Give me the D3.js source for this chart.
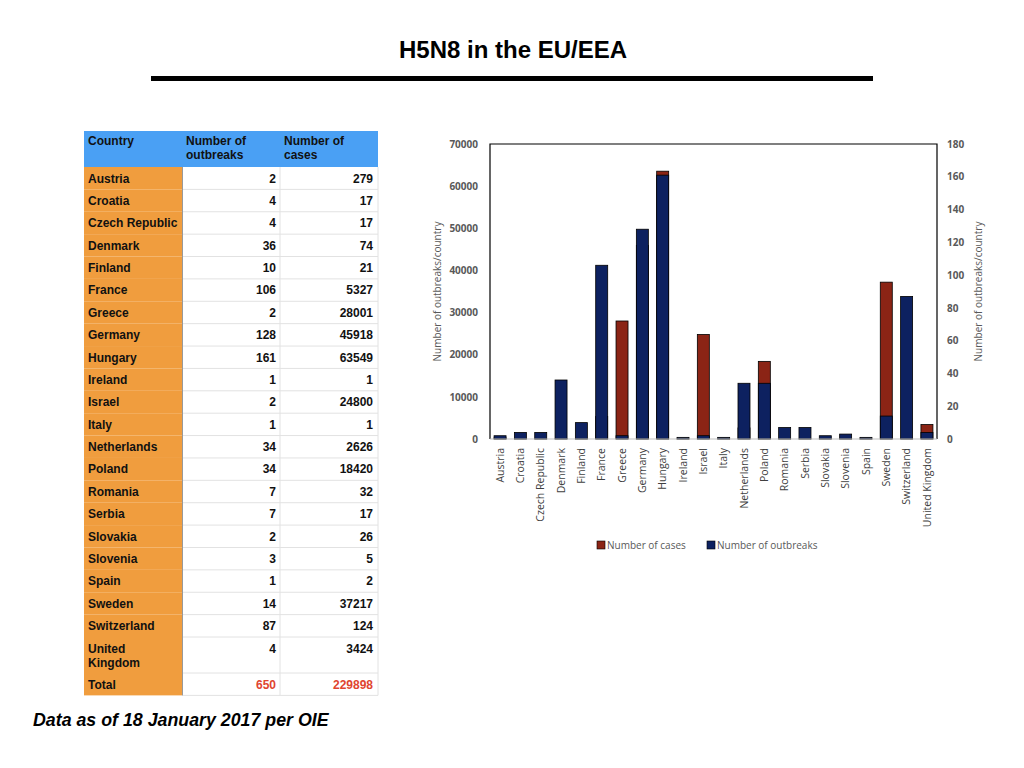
<!DOCTYPE html>
<html>
<head>
<meta charset="utf-8">
<script src="https://cdn.jsdelivr.net/npm/d3@7"></script>
<style>
  body { margin: 0; background: #fff; }
  svg { display: block; }
</style>
</head>
<body>
<div id="chart"></div>
<script>
// Datos
const countries = ["Austria", "Croatia", "Czech Republic", "Denmark", "Finland", "France", "Greece",
    "Germany", "Hungary", "Ireland", "Israel", "Italy", "Netherlands", "Poland", "Romania", "Serbia",
    "Slovakia", "Slovenia", "Spain", "Sweden", "Switzerland", "United Kingdom"];
const outbreaks = [2, 4, 4, 36, 10, 106, 2, 128, 161, 1, 2, 1, 34, 34, 7, 7, 2, 3, 1, 14, 87, 4];
const cases = [279, 17, 17, 74, 21, 5327, 28001, 45918, 63549, 1, 24800, 1, 2626, 18420, 32, 17, 26, 5, 2, 37217, 124, 3424];
const casesTicks = [0, 10000, 20000, 30000, 40000, 50000, 60000, 70000];
const outbreaksTicks = [0, 20, 40, 60, 80, 100, 120, 140, 160, 180];
const totalOutbreaks = 650, totalCases = 229898;

const W = 1024, H = 768;
const svg = d3.select("#chart").append("svg").attr("width", W).attr("height", H);

// Titulo
svg.append("text").attr("x", 513).attr("y", 58).attr("text-anchor", "middle")
    .attr("font-family", "Liberation Sans, Arial, sans-serif").attr("font-weight", "bold")
    .attr("font-size", 24).attr("fill", "#000").text("H5N8 in the EU/EEA");
svg.append("rect").attr("x", 151).attr("y", 76).attr("width", 722).attr("height", 5).attr("fill", "#000");

// Tabla
const tf = "Liberation Sans, Arial, sans-serif";
const colX = [84, 182, 280, 378];
const table = svg.append("g").attr("font-family", tf).attr("font-weight", "bold").attr("font-size", 12);

const headTop = 131, headBot = 167, rowH = (637 - 167) / 21;
table.append("rect").attr("x", colX[0]).attr("y", headTop).attr("width", colX[3] - colX[0])
    .attr("height", headBot - headTop).attr("fill", "#4aa0f4");
[["Country"], ["Number of", "outbreaks"], ["Number of", "cases"]].forEach((lines, i) => {
    lines.forEach((l, j) => table.append("text").attr("x", colX[i] + 4).attr("y", headTop + 14 + j * 14)
        .attr("fill", "#111").text(l));
});

const rows = countries.map((c, i) => ({ name: c, o: outbreaks[i], c: cases[i] }));
rows.push({ name: "Total", o: totalOutbreaks, c: totalCases, total: true });
let y0 = headBot;
rows.forEach(r => {
    const h = r.name === "United Kingdom" ? 36 : rowH;
    table.append("rect").attr("x", colX[0]).attr("y", y0).attr("width", colX[1] - colX[0])
        .attr("height", h).attr("fill", "#f09d3e");
    table.append("line").attr("x1", colX[1]).attr("x2", colX[3]).attr("y1", y0 + h).attr("y2", y0 + h)
        .attr("stroke", "#e2e2e2").attr("stroke-width", 1);
    const nameLines = r.name === "United Kingdom" ? ["United", "Kingdom"] : [r.name];
    nameLines.forEach((l, j) => table.append("text").attr("x", colX[0] + 4).attr("y", y0 + 15.5 + j * 14)
        .attr("fill", "#111").text(l));
    const col = r.total ? "#e0452f" : "#111";
    table.append("text").attr("x", colX[2] - 4).attr("y", y0 + 15.5).attr("text-anchor", "end")
        .attr("fill", col).text(r.o);
    table.append("text").attr("x", colX[3] - 5).attr("y", y0 + 15.5).attr("text-anchor", "end")
        .attr("fill", col).text(r.c);
    y0 += h;
});
table.append("line").attr("x1", colX[1] + 0.5).attr("x2", colX[1] + 0.5).attr("y1", headBot).attr("y2", y0)
    .attr("stroke", "#999");
table.append("line").attr("x1", colX[2]).attr("x2", colX[2]).attr("y1", headBot).attr("y2", y0)
    .attr("stroke", "#e2e2e2");
table.append("line").attr("x1", colX[3]).attr("x2", colX[3]).attr("y1", headBot).attr("y2", y0)
    .attr("stroke", "#e2e2e2");

// Pie
svg.append("text").attr("x", 33).attr("y", 726).attr("font-family", tf).attr("font-weight", "bold")
    .attr("font-style", "italic").attr("font-size", 17.8).attr("fill", "#000")
    .text("Data as of 18 January 2017 per OIE");

// Grafico
const cf = "Open Sans, Lato, sans-serif";
const plot = { left: 490, right: 937, top: 144, bottom: 439 };
const x = d3.scaleBand().domain(countries).range([plot.left, plot.right])
    .paddingInner(0.41).paddingOuter(0.2);
const yCases = d3.scaleLinear().domain([0, 70000]).range([plot.bottom, plot.top]);
const yOut = d3.scaleLinear().domain([0, 180]).range([plot.bottom, plot.top]);

const chart = svg.append("g");

chart.selectAll(".casebar").data(countries).join("rect")
    .attr("x", d => x(d)).attr("width", x.bandwidth())
    .attr("y", (d, i) => yCases(cases[i])).attr("height", (d, i) => plot.bottom - yCases(cases[i]))
    .attr("fill", "#8b2415").attr("stroke", "#000").attr("stroke-width", 0.8);

chart.selectAll(".outbar").data(countries).join("rect")
    .attr("x", d => x(d)).attr("width", x.bandwidth())
    .attr("y", (d, i) => yOut(outbreaks[i])).attr("height", (d, i) => plot.bottom - yOut(outbreaks[i]))
    .attr("fill", "#0d2160").attr("stroke", "#000").attr("stroke-width", 0.8);

// Marco
chart.append("path")
    .attr("d", `M${plot.left},${plot.bottom}V${plot.top}H${plot.right}V${plot.bottom}`)
    .attr("fill", "none").attr("stroke", "#000").attr("stroke-width", 1.2);
chart.append("line").attr("x1", plot.left).attr("x2", plot.right)
    .attr("y1", plot.bottom).attr("y2", plot.bottom).attr("stroke", "#bfbfbf").attr("stroke-width", 1.2);

// Ejes
const axL = chart.append("g").attr("transform", `translate(${plot.left - 10},0)`)
    .call(d3.axisLeft(yCases).tickValues(casesTicks).tickSize(0).tickPadding(2).tickFormat(d3.format("d")));
const axR = chart.append("g").attr("transform", `translate(${plot.right + 10},0)`)
    .call(d3.axisRight(yOut).tickValues(outbreaksTicks).tickSize(0).tickPadding(0).tickFormat(d3.format("d")));
const axB = chart.append("g").attr("transform", `translate(0,${plot.bottom})`)
    .call(d3.axisBottom(x).tickSize(0).tickPadding(0));
[axL, axR, axB].forEach(a => {
    a.select(".domain").remove();
    a.selectAll("text").attr("font-family", cf).attr("font-size", 10).attr("fill", "#595959");
});
axL.selectAll("text").attr("font-weight", "bold");
axR.selectAll("text").attr("font-weight", "bold");
axB.selectAll("text").attr("transform", "rotate(-90)").attr("text-anchor", "end")
    .attr("x", -9).attr("y", 0).attr("dy", "0.35em").attr("font-size", 10.5).attr("fill", "#404040");

const midY = (plot.top + plot.bottom) / 2;
chart.append("text").attr("transform", `translate(441,${midY}) rotate(-90)`).attr("text-anchor", "middle")
    .attr("font-family", cf).attr("font-size", 10).attr("fill", "#595959").text("Number of outbreaks/country");
chart.append("text").attr("transform", `translate(982,${midY}) rotate(-90)`).attr("text-anchor", "middle")
    .attr("font-family", cf).attr("font-size", 10).attr("fill", "#595959").text("Number of outbreaks/country");

// Leyenda
const legend = chart.append("g").attr("font-family", cf).attr("font-size", 10).attr("fill", "#595959");
[["Number of cases", "#8b2415", 597], ["Number of outbreaks", "#0d2160", 707]].forEach(([t, c, lx]) => {
    legend.append("rect").attr("x", lx).attr("y", 541).attr("width", 8).attr("height", 8)
        .attr("fill", c).attr("stroke", "#000").attr("stroke-width", 0.6);
    legend.append("text").attr("x", lx + 10).attr("y", 549).attr("fill", "#595959").text(t);
});
</script>
</body>
</html>
